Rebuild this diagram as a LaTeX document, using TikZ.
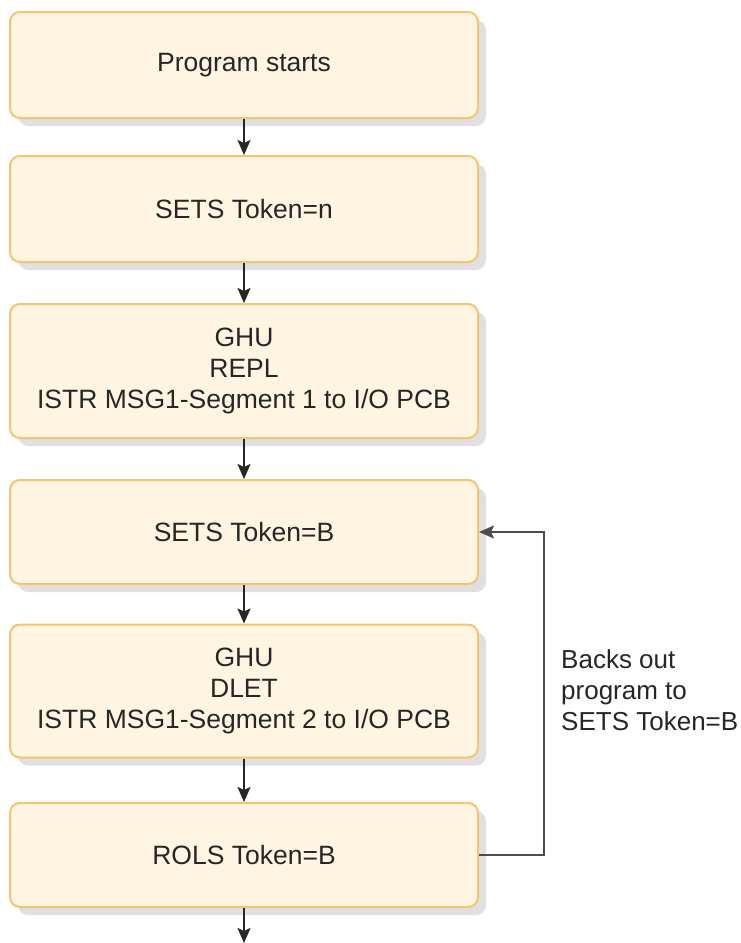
\documentclass[tikz,border=0pt]{standalone}
\usepackage{fontspec}
\setmainfont{Liberation Sans}
\usetikzlibrary{arrows.meta, shadows}

\definecolor{boxfill}{RGB}{255,245,226}
\definecolor{boxline}{RGB}{246,196,112}

\begin{document}
\begin{tikzpicture}[x=1pt, y=-1pt, >={Stealth[length=15pt, width=13pt, inset=3pt]},
    stepbox/.style={draw=boxline, fill=boxfill, line width=2pt, rounded corners=10pt,
        minimum width=468pt, align=center, text=black!85, font=\fontsize{26.5}{31}\selectfont,
        drop shadow={shadow xshift=8pt, shadow yshift=-8pt, fill=black!12, opacity=1}},
    flow/.style={->, line width=2pt, draw=black!85},
    back/.style={->, line width=2pt, draw=black!70}]
                \useasboundingbox (0,0) rectangle (740,943);

                \node[stepbox, minimum height=106pt] (start) at (244,65) {Program starts};
                \node[stepbox, minimum height=106pt] (setsn) at (244,209) {SETS Token=n};
                \node[stepbox, minimum height=134pt] (ghurepl) at (244,371) {GHU\\REPL\\ISTR MSG1-Segment 1 to I/O PCB};
                \node[stepbox, minimum height=104pt] (setsb) at (244,532) {SETS Token=B};
                \node[stepbox, minimum height=133pt] (ghudlet) at (244,691) {GHU\\DLET\\ISTR MSG1-Segment 2 to I/O PCB};
                \node[stepbox, minimum height=104pt] (rols) at (244,855) {ROLS Token=B};
                \coordinate (next) at (244,943);

                \draw[flow] (start) -- (setsn);
                \draw[flow] (setsn) -- (ghurepl);
                \draw[flow] (ghurepl) -- (setsb);
                \draw[flow] (setsb) -- (ghudlet);
                \draw[flow] (ghudlet) -- (rols);
                \draw[flow] (rols) -- (next);

                % rollback goes back up to the SETS point
                \draw[back] (rols.east) -- ++(65,0) |- (setsb.east);
                \node[anchor=north west, inner sep=0pt, align=left, text=black!85, font=\fontsize{26}{31}\selectfont]
                    (backs) at (561,649) {Backs out\\program to\\SETS Token=B};
            \end{tikzpicture}
\end{document}
